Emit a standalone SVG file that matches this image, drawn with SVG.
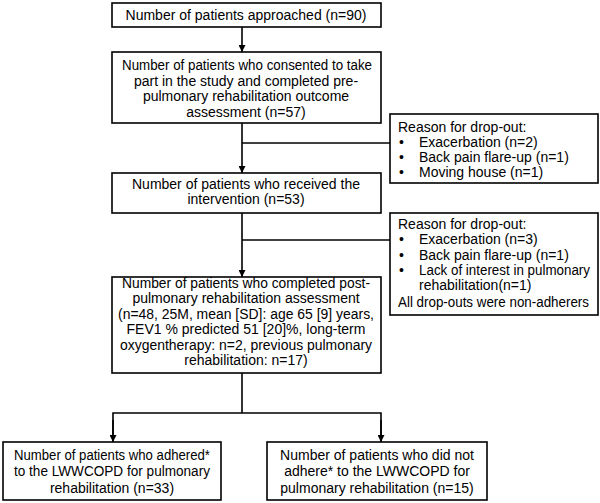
<svg xmlns="http://www.w3.org/2000/svg" width="600" height="503" viewBox="0 0 600 503">
<defs>
<style>
.box{fill:#fff;stroke:#000;stroke-width:1.6}
.t{font-family:"Liberation Sans",Arial,sans-serif;font-size:14px;fill:#000}
.c{text-anchor:middle}
.ln{stroke:#000;stroke-width:1.6;fill:none}
</style>
<marker id="ah" viewBox="0 0 10 10" refX="10" refY="5" markerWidth="7" markerHeight="7" markerUnits="userSpaceOnUse" orient="auto">
<path d="M0,0 L10,5 L0,10 Z" fill="#000"/>
</marker>
</defs>
<rect width="600" height="503" fill="#fff"/>
<g id="connectors">
<line class="ln" x1="242" y1="27" x2="242" y2="52" marker-end="url(#ah)"/>
<line class="ln" x1="242" y1="123" x2="242" y2="173" marker-end="url(#ah)"/>
<line class="ln" x1="242" y1="143" x2="390" y2="143"/>
<line class="ln" x1="242" y1="213" x2="242" y2="277" marker-end="url(#ah)"/>
<line class="ln" x1="242" y1="240" x2="390" y2="240"/>
<line class="ln" x1="242" y1="373" x2="242" y2="413"/>
<polyline class="ln" points="113,442 113,413 381,413 381,442"/>
<line class="ln" x1="113" y1="420" x2="113" y2="442" marker-end="url(#ah)"/>
<line class="ln" x1="381" y1="420" x2="381" y2="442" marker-end="url(#ah)"/>
</g>
<g id="n1">
<rect class="box" x="112" y="3" width="269" height="24"/>
<text class="t c" x="246" y="20">Number of patients approached (n=90)</text>
</g>
<g id="n2">
<rect class="box" x="112" y="52" width="269" height="71"/>
<text class="t c" x="247" y="70" textLength="250" lengthAdjust="spacingAndGlyphs">Number of patients who consented to take</text>
<text class="t c" x="246" y="86">part in the study and completed pre-</text>
<text class="t c" x="246" y="101">pulmonary rehabilitation outcome</text>
<text class="t c" x="246" y="117">assessment (n=57)</text>
</g>
<g id="n3">
<rect class="box" x="112" y="173" width="269" height="40"/>
<text class="t c" x="246" y="189">Number of patients who received the</text>
<text class="t c" x="246" y="204">intervention (n=53)</text>
</g>
<g id="n4">
<rect class="box" x="112" y="277" width="269" height="96"/>
<text class="t c" x="246" y="288" textLength="248" lengthAdjust="spacingAndGlyphs">Number of patients who completed post-</text>
<text class="t c" x="246" y="303">pulmonary rehabilitation assessment</text>
<text class="t c" x="246" y="319" textLength="256" lengthAdjust="spacingAndGlyphs">(n=48, 25M, mean [SD]: age 65 [9] years,</text>
<text class="t c" x="246" y="334">FEV1 % predicted 51 [20]%, long-term</text>
<text class="t c" x="246" y="350" textLength="252" lengthAdjust="spacingAndGlyphs">oxygentherapy: n=2, previous pulmonary</text>
<text class="t c" x="246" y="365">rehabilitation: n=17)</text>
</g>
<g id="r1">
<rect class="box" x="390" y="114" width="208" height="69"/>
<text class="t" x="398" y="132">Reason for drop-out:</text>
<text class="t" x="399" y="147">•</text><text class="t" x="419" y="147">Exacerbation (n=2)</text>
<text class="t" x="399" y="162">•</text><text class="t" x="419" y="162">Back pain flare-up (n=1)</text>
<text class="t" x="399" y="177">•</text><text class="t" x="419" y="177">Moving house (n=1)</text>
</g>
<g id="r2">
<rect class="box" x="390" y="213" width="208" height="102"/>
<text class="t" x="398" y="229">Reason for drop-out:</text>
<text class="t" x="399" y="244">•</text><text class="t" x="419" y="244">Exacerbation (n=3)</text>
<text class="t" x="399" y="260">•</text><text class="t" x="419" y="260">Back pain flare-up (n=1)</text>
<text class="t" x="399" y="275">•</text><text class="t" x="419" y="275" textLength="171" lengthAdjust="spacingAndGlyphs">Lack of interest in pulmonary</text>
<text class="t" x="419" y="290">rehabilitation(n=1)</text>
<text class="t" x="398" y="307" textLength="191" lengthAdjust="spacingAndGlyphs">All drop-outs were non-adherers</text>
</g>
<g id="n5">
<rect class="box" x="3" y="442" width="218" height="58"/>
<text class="t c" x="112" y="460" textLength="196" lengthAdjust="spacingAndGlyphs">Number of patients who adhered*</text>
<text class="t c" x="112" y="476" textLength="196" lengthAdjust="spacingAndGlyphs">to the LWWCOPD for pulmonary</text>
<text class="t c" x="112" y="493">rehabilitation (n=33)</text>
</g>
<g id="n6">
<rect class="box" x="267" y="442" width="220" height="58"/>
<text class="t c" x="377" y="460">Number of patients who did not</text>
<text class="t c" x="377" y="476">adhere* to the LWWCOPD for</text>
<text class="t c" x="377" y="493">pulmonary rehabilitation (n=15)</text>
</g>
</svg>
